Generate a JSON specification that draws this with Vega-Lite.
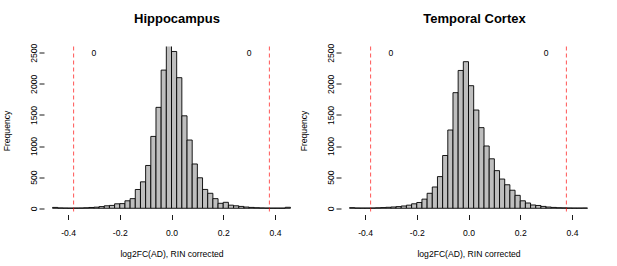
{
  "$schema": "https://vega.github.io/schema/vega-lite/v6.json",
  "padding": {"left": 2, "top": 12.5, "right": 5, "bottom": 3},
  "background": "white",
  "config": {
    "view": {"stroke": null},
    "font": "Liberation Sans",
    "concat": {"spacing": 0},
    "axis": {"grid": false, "domain": false, "tickColor": "black", "tickSize": 5, "tickWidth": 0.9, "labelColor": "black", "titleColor": "black", "labelFont": "Liberation Sans", "titleFont": "Liberation Sans", "labelFontSize": 8.6, "titleFontSize": 8.6, "titleFontWeight": "normal", "labelOverlap": false}
  },
  "datasets": {
    "bins": [
      {"panel": "Hippocampus", "lo": -0.46, "hi": -0.44, "count": 14},
      {"panel": "Hippocampus", "lo": -0.44, "hi": -0.42, "count": 6},
      {"panel": "Hippocampus", "lo": -0.42, "hi": -0.40, "count": 4},
      {"panel": "Hippocampus", "lo": -0.40, "hi": -0.38, "count": 3},
      {"panel": "Hippocampus", "lo": -0.38, "hi": -0.36, "count": 4},
      {"panel": "Hippocampus", "lo": -0.36, "hi": -0.34, "count": 5},
      {"panel": "Hippocampus", "lo": -0.34, "hi": -0.32, "count": 8},
      {"panel": "Hippocampus", "lo": -0.32, "hi": -0.30, "count": 13},
      {"panel": "Hippocampus", "lo": -0.30, "hi": -0.28, "count": 18},
      {"panel": "Hippocampus", "lo": -0.28, "hi": -0.26, "count": 27},
      {"panel": "Hippocampus", "lo": -0.26, "hi": -0.24, "count": 40},
      {"panel": "Hippocampus", "lo": -0.24, "hi": -0.22, "count": 46},
      {"panel": "Hippocampus", "lo": -0.22, "hi": -0.20, "count": 72},
      {"panel": "Hippocampus", "lo": -0.20, "hi": -0.18, "count": 75},
      {"panel": "Hippocampus", "lo": -0.18, "hi": -0.16, "count": 120},
      {"panel": "Hippocampus", "lo": -0.16, "hi": -0.14, "count": 155},
      {"panel": "Hippocampus", "lo": -0.14, "hi": -0.12, "count": 302},
      {"panel": "Hippocampus", "lo": -0.12, "hi": -0.10, "count": 425},
      {"panel": "Hippocampus", "lo": -0.10, "hi": -0.08, "count": 688},
      {"panel": "Hippocampus", "lo": -0.08, "hi": -0.06, "count": 1155},
      {"panel": "Hippocampus", "lo": -0.06, "hi": -0.04, "count": 1622},
      {"panel": "Hippocampus", "lo": -0.04, "hi": -0.02, "count": 2221},
      {"panel": "Hippocampus", "lo": -0.02, "hi": 0.00, "count": 2680},
      {"panel": "Hippocampus", "lo": 0.00, "hi": 0.02, "count": 2520},
      {"panel": "Hippocampus", "lo": 0.02, "hi": 0.04, "count": 2099},
      {"panel": "Hippocampus", "lo": 0.04, "hi": 0.06, "count": 1486},
      {"panel": "Hippocampus", "lo": 0.06, "hi": 0.08, "count": 1097},
      {"panel": "Hippocampus", "lo": 0.08, "hi": 0.10, "count": 712},
      {"panel": "Hippocampus", "lo": 0.10, "hi": 0.12, "count": 490},
      {"panel": "Hippocampus", "lo": 0.12, "hi": 0.14, "count": 303},
      {"panel": "Hippocampus", "lo": 0.14, "hi": 0.16, "count": 241},
      {"panel": "Hippocampus", "lo": 0.16, "hi": 0.18, "count": 155},
      {"panel": "Hippocampus", "lo": 0.18, "hi": 0.20, "count": 80},
      {"panel": "Hippocampus", "lo": 0.20, "hi": 0.22, "count": 96},
      {"panel": "Hippocampus", "lo": 0.22, "hi": 0.24, "count": 50},
      {"panel": "Hippocampus", "lo": 0.24, "hi": 0.26, "count": 40},
      {"panel": "Hippocampus", "lo": 0.26, "hi": 0.28, "count": 30},
      {"panel": "Hippocampus", "lo": 0.28, "hi": 0.30, "count": 20},
      {"panel": "Hippocampus", "lo": 0.30, "hi": 0.32, "count": 14},
      {"panel": "Hippocampus", "lo": 0.32, "hi": 0.34, "count": 9},
      {"panel": "Hippocampus", "lo": 0.34, "hi": 0.36, "count": 6},
      {"panel": "Hippocampus", "lo": 0.36, "hi": 0.38, "count": 4},
      {"panel": "Hippocampus", "lo": 0.38, "hi": 0.40, "count": 3},
      {"panel": "Hippocampus", "lo": 0.40, "hi": 0.42, "count": 3},
      {"panel": "Hippocampus", "lo": 0.42, "hi": 0.44, "count": 3},
      {"panel": "Hippocampus", "lo": 0.44, "hi": 0.46, "count": 16},
      {"panel": "Temporal Cortex", "lo": -0.46, "hi": -0.44, "count": 10},
      {"panel": "Temporal Cortex", "lo": -0.44, "hi": -0.42, "count": 5},
      {"panel": "Temporal Cortex", "lo": -0.42, "hi": -0.40, "count": 4},
      {"panel": "Temporal Cortex", "lo": -0.40, "hi": -0.38, "count": 4},
      {"panel": "Temporal Cortex", "lo": -0.38, "hi": -0.36, "count": 5},
      {"panel": "Temporal Cortex", "lo": -0.36, "hi": -0.34, "count": 8},
      {"panel": "Temporal Cortex", "lo": -0.34, "hi": -0.32, "count": 11},
      {"panel": "Temporal Cortex", "lo": -0.32, "hi": -0.30, "count": 16},
      {"panel": "Temporal Cortex", "lo": -0.30, "hi": -0.28, "count": 21},
      {"panel": "Temporal Cortex", "lo": -0.28, "hi": -0.26, "count": 27},
      {"panel": "Temporal Cortex", "lo": -0.26, "hi": -0.24, "count": 37},
      {"panel": "Temporal Cortex", "lo": -0.24, "hi": -0.22, "count": 50},
      {"panel": "Temporal Cortex", "lo": -0.22, "hi": -0.20, "count": 72},
      {"panel": "Temporal Cortex", "lo": -0.20, "hi": -0.18, "count": 93},
      {"panel": "Temporal Cortex", "lo": -0.18, "hi": -0.16, "count": 147},
      {"panel": "Temporal Cortex", "lo": -0.16, "hi": -0.14, "count": 241},
      {"panel": "Temporal Cortex", "lo": -0.14, "hi": -0.12, "count": 342},
      {"panel": "Temporal Cortex", "lo": -0.12, "hi": -0.10, "count": 509},
      {"panel": "Temporal Cortex", "lo": -0.10, "hi": -0.08, "count": 848},
      {"panel": "Temporal Cortex", "lo": -0.08, "hi": -0.06, "count": 1258},
      {"panel": "Temporal Cortex", "lo": -0.06, "hi": -0.04, "count": 1858},
      {"panel": "Temporal Cortex", "lo": -0.04, "hi": -0.02, "count": 2215},
      {"panel": "Temporal Cortex", "lo": -0.02, "hi": 0.00, "count": 2356},
      {"panel": "Temporal Cortex", "lo": 0.00, "hi": 0.02, "count": 1970},
      {"panel": "Temporal Cortex", "lo": 0.02, "hi": 0.04, "count": 1579},
      {"panel": "Temporal Cortex", "lo": 0.04, "hi": 0.06, "count": 1296},
      {"panel": "Temporal Cortex", "lo": 0.06, "hi": 0.08, "count": 1001},
      {"panel": "Temporal Cortex", "lo": 0.08, "hi": 0.10, "count": 795},
      {"panel": "Temporal Cortex", "lo": 0.10, "hi": 0.12, "count": 605},
      {"panel": "Temporal Cortex", "lo": 0.12, "hi": 0.14, "count": 470},
      {"panel": "Temporal Cortex", "lo": 0.14, "hi": 0.16, "count": 378},
      {"panel": "Temporal Cortex", "lo": 0.16, "hi": 0.18, "count": 290},
      {"panel": "Temporal Cortex", "lo": 0.18, "hi": 0.20, "count": 208},
      {"panel": "Temporal Cortex", "lo": 0.20, "hi": 0.22, "count": 120},
      {"panel": "Temporal Cortex", "lo": 0.22, "hi": 0.24, "count": 85},
      {"panel": "Temporal Cortex", "lo": 0.24, "hi": 0.26, "count": 53},
      {"panel": "Temporal Cortex", "lo": 0.26, "hi": 0.28, "count": 45},
      {"panel": "Temporal Cortex", "lo": 0.28, "hi": 0.30, "count": 30},
      {"panel": "Temporal Cortex", "lo": 0.30, "hi": 0.32, "count": 20},
      {"panel": "Temporal Cortex", "lo": 0.32, "hi": 0.34, "count": 14},
      {"panel": "Temporal Cortex", "lo": 0.34, "hi": 0.36, "count": 9},
      {"panel": "Temporal Cortex", "lo": 0.36, "hi": 0.38, "count": 7},
      {"panel": "Temporal Cortex", "lo": 0.38, "hi": 0.40, "count": 5},
      {"panel": "Temporal Cortex", "lo": 0.40, "hi": 0.42, "count": 4},
      {"panel": "Temporal Cortex", "lo": 0.42, "hi": 0.44, "count": 4},
      {"panel": "Temporal Cortex", "lo": 0.44, "hi": 0.46, "count": 5}
    ],
    "thr": [{"t": -0.3785}, {"t": 0.3785}],
    "lab": [{"x": -0.3, "label": "0"}, {"x": 0.3, "label": "0"}]
  },
  "hconcat": [
    {
      "title": {"text": "Hippocampus", "fontSize": 13, "fontWeight": "bold", "font": "Liberation Sans", "color": "black", "frame": "group", "anchor": "middle", "dx": 5.5, "baseline": "alphabetic", "offset": 7.5},
      "width": 255,
      "height": 168,
      "layer": [
        {
          "data": {"name": "bins"},
          "transform": [{"filter": "datum.panel === 'Hippocampus'"}],
          "mark": {"type": "bar", "fill": "#bebebe", "stroke": "black", "strokeWidth": 0.9, "clip": true},
          "encoding": {
            "x": {"field": "lo", "type": "quantitative", "title": "log2FC(AD), RIN corrected", "scale": {"domain": [-0.493, 0.493], "nice": false, "zero": false},
              "axis": {"values": [-0.4, -0.2, 0, 0.2, 0.4], "format": ".1f", "labelExpr": "replace(datum.label, '−', '-')", "labelPadding": 8.5, "titlePadding": 13}},
            "x2": {"field": "hi"},
            "y": {"field": "count", "type": "quantitative", "title": "Frequency", "scale": {"domain": [-100, 2600], "nice": false, "zero": false},
              "axis": {"values": [0, 500, 1000, 1500, 2000, 2500], "format": "d", "labelAngle": -90, "labelAlign": "center", "labelBaseline": "bottom", "labelPadding": 1, "minExtent": 15, "maxExtent": 15, "titlePadding": 18}},
            "y2": {"datum": 0}
          }
        },
        {
          "mark": {"type": "rule", "color": "black", "strokeWidth": 0.9},
          "encoding": {
            "x": {"datum": -0.4, "type": "quantitative", "title": "log2FC(AD), RIN corrected", "scale": {"domain": [-0.493, 0.493], "nice": false, "zero": false},
              "axis": {"values": [-0.4, -0.2, 0, 0.2, 0.4], "format": ".1f", "labelExpr": "replace(datum.label, '−', '-')", "labelPadding": 8.5, "titlePadding": 13}},
            "x2": {"datum": 0.4},
            "y": {"datum": -100, "type": "quantitative", "title": "Frequency", "scale": {"domain": [-100, 2600], "nice": false, "zero": false},
              "axis": {"values": [0, 500, 1000, 1500, 2000, 2500], "format": "d", "labelAngle": -90, "labelAlign": "center", "labelBaseline": "bottom", "labelPadding": 1, "minExtent": 15, "maxExtent": 15, "titlePadding": 18}}
          }
        },
        {
          "mark": {"type": "rule", "color": "black", "strokeWidth": 0.9},
          "encoding": {
            "x": {"datum": -0.493, "type": "quantitative", "title": "log2FC(AD), RIN corrected", "scale": {"domain": [-0.493, 0.493], "nice": false, "zero": false},
              "axis": {"values": [-0.4, -0.2, 0, 0.2, 0.4], "format": ".1f", "labelExpr": "replace(datum.label, '−', '-')", "labelPadding": 8.5, "titlePadding": 13}},
            "y": {"datum": 0, "type": "quantitative", "title": "Frequency", "scale": {"domain": [-100, 2600], "nice": false, "zero": false},
              "axis": {"values": [0, 500, 1000, 1500, 2000, 2500], "format": "d", "labelAngle": -90, "labelAlign": "center", "labelBaseline": "bottom", "labelPadding": 1, "minExtent": 15, "maxExtent": 15, "titlePadding": 18}},
            "y2": {"datum": 2500}
          }
        },
        {
          "data": {"name": "thr"},
          "mark": {"type": "rule", "color": "#ff0000", "strokeWidth": 0.9, "strokeDash": [4, 3], "opacity": 0.75},
          "encoding": {
            "x": {"field": "t", "type": "quantitative", "title": "log2FC(AD), RIN corrected", "scale": {"domain": [-0.493, 0.493], "nice": false, "zero": false},
              "axis": {"values": [-0.4, -0.2, 0, 0.2, 0.4], "format": ".1f", "labelExpr": "replace(datum.label, '−', '-')", "labelPadding": 8.5, "titlePadding": 13}}
          }
        },
        {
          "data": {"name": "lab"},
          "mark": {"type": "text", "fontSize": 8.6, "font": "Liberation Sans", "color": "black", "align": "center", "baseline": "middle"},
          "encoding": {
            "x": {"field": "x", "type": "quantitative", "title": "log2FC(AD), RIN corrected", "scale": {"domain": [-0.493, 0.493], "nice": false, "zero": false},
              "axis": {"values": [-0.4, -0.2, 0, 0.2, 0.4], "format": ".1f", "labelExpr": "replace(datum.label, '−', '-')", "labelPadding": 8.5, "titlePadding": 13}},
            "y": {"datum": 2490, "type": "quantitative", "title": "Frequency", "scale": {"domain": [-100, 2600], "nice": false, "zero": false},
              "axis": {"values": [0, 500, 1000, 1500, 2000, 2500], "format": "d", "labelAngle": -90, "labelAlign": "center", "labelBaseline": "bottom", "labelPadding": 1, "minExtent": 15, "maxExtent": 15, "titlePadding": 18}},
            "text": {"field": "label"}
          }
        }
      ]
    },
    {
      "title": {"text": "Temporal Cortex", "fontSize": 13, "fontWeight": "bold", "font": "Liberation Sans", "color": "black", "frame": "group", "anchor": "middle", "dx": 6, "baseline": "alphabetic", "offset": 7.5},
      "width": 255,
      "height": 168,
      "layer": [
        {
          "data": {"name": "bins"},
          "transform": [{"filter": "datum.panel === 'Temporal Cortex'"}],
          "mark": {"type": "bar", "fill": "#bebebe", "stroke": "black", "strokeWidth": 0.9, "clip": true},
          "encoding": {
            "x": {"field": "lo", "type": "quantitative", "title": "log2FC(AD), RIN corrected", "scale": {"domain": [-0.493, 0.493], "nice": false, "zero": false},
              "axis": {"values": [-0.4, -0.2, 0, 0.2, 0.4], "format": ".1f", "labelExpr": "replace(datum.label, '−', '-')", "labelPadding": 8.5, "titlePadding": 13}},
            "x2": {"field": "hi"},
            "y": {"field": "count", "type": "quantitative", "title": "Frequency", "scale": {"domain": [-100, 2600], "nice": false, "zero": false},
              "axis": {"values": [0, 500, 1000, 1500, 2000, 2500], "format": "d", "labelAngle": -90, "labelAlign": "center", "labelBaseline": "bottom", "labelPadding": 1, "minExtent": 15, "maxExtent": 15, "titlePadding": 18}},
            "y2": {"datum": 0}
          }
        },
        {
          "mark": {"type": "rule", "color": "black", "strokeWidth": 0.9},
          "encoding": {
            "x": {"datum": -0.4, "type": "quantitative", "title": "log2FC(AD), RIN corrected", "scale": {"domain": [-0.493, 0.493], "nice": false, "zero": false},
              "axis": {"values": [-0.4, -0.2, 0, 0.2, 0.4], "format": ".1f", "labelExpr": "replace(datum.label, '−', '-')", "labelPadding": 8.5, "titlePadding": 13}},
            "x2": {"datum": 0.4},
            "y": {"datum": -100, "type": "quantitative", "title": "Frequency", "scale": {"domain": [-100, 2600], "nice": false, "zero": false},
              "axis": {"values": [0, 500, 1000, 1500, 2000, 2500], "format": "d", "labelAngle": -90, "labelAlign": "center", "labelBaseline": "bottom", "labelPadding": 1, "minExtent": 15, "maxExtent": 15, "titlePadding": 18}}
          }
        },
        {
          "mark": {"type": "rule", "color": "black", "strokeWidth": 0.9},
          "encoding": {
            "x": {"datum": -0.493, "type": "quantitative", "title": "log2FC(AD), RIN corrected", "scale": {"domain": [-0.493, 0.493], "nice": false, "zero": false},
              "axis": {"values": [-0.4, -0.2, 0, 0.2, 0.4], "format": ".1f", "labelExpr": "replace(datum.label, '−', '-')", "labelPadding": 8.5, "titlePadding": 13}},
            "y": {"datum": 0, "type": "quantitative", "title": "Frequency", "scale": {"domain": [-100, 2600], "nice": false, "zero": false},
              "axis": {"values": [0, 500, 1000, 1500, 2000, 2500], "format": "d", "labelAngle": -90, "labelAlign": "center", "labelBaseline": "bottom", "labelPadding": 1, "minExtent": 15, "maxExtent": 15, "titlePadding": 18}},
            "y2": {"datum": 2500}
          }
        },
        {
          "data": {"name": "thr"},
          "mark": {"type": "rule", "color": "#ff0000", "strokeWidth": 0.9, "strokeDash": [4, 3], "opacity": 0.75},
          "encoding": {
            "x": {"field": "t", "type": "quantitative", "title": "log2FC(AD), RIN corrected", "scale": {"domain": [-0.493, 0.493], "nice": false, "zero": false},
              "axis": {"values": [-0.4, -0.2, 0, 0.2, 0.4], "format": ".1f", "labelExpr": "replace(datum.label, '−', '-')", "labelPadding": 8.5, "titlePadding": 13}}
          }
        },
        {
          "data": {"name": "lab"},
          "mark": {"type": "text", "fontSize": 8.6, "font": "Liberation Sans", "color": "black", "align": "center", "baseline": "middle"},
          "encoding": {
            "x": {"field": "x", "type": "quantitative", "title": "log2FC(AD), RIN corrected", "scale": {"domain": [-0.493, 0.493], "nice": false, "zero": false},
              "axis": {"values": [-0.4, -0.2, 0, 0.2, 0.4], "format": ".1f", "labelExpr": "replace(datum.label, '−', '-')", "labelPadding": 8.5, "titlePadding": 13}},
            "y": {"datum": 2490, "type": "quantitative", "title": "Frequency", "scale": {"domain": [-100, 2600], "nice": false, "zero": false},
              "axis": {"values": [0, 500, 1000, 1500, 2000, 2500], "format": "d", "labelAngle": -90, "labelAlign": "center", "labelBaseline": "bottom", "labelPadding": 1, "minExtent": 15, "maxExtent": 15, "titlePadding": 18}},
            "text": {"field": "label"}
          }
        }
      ]
    }
  ]
}
